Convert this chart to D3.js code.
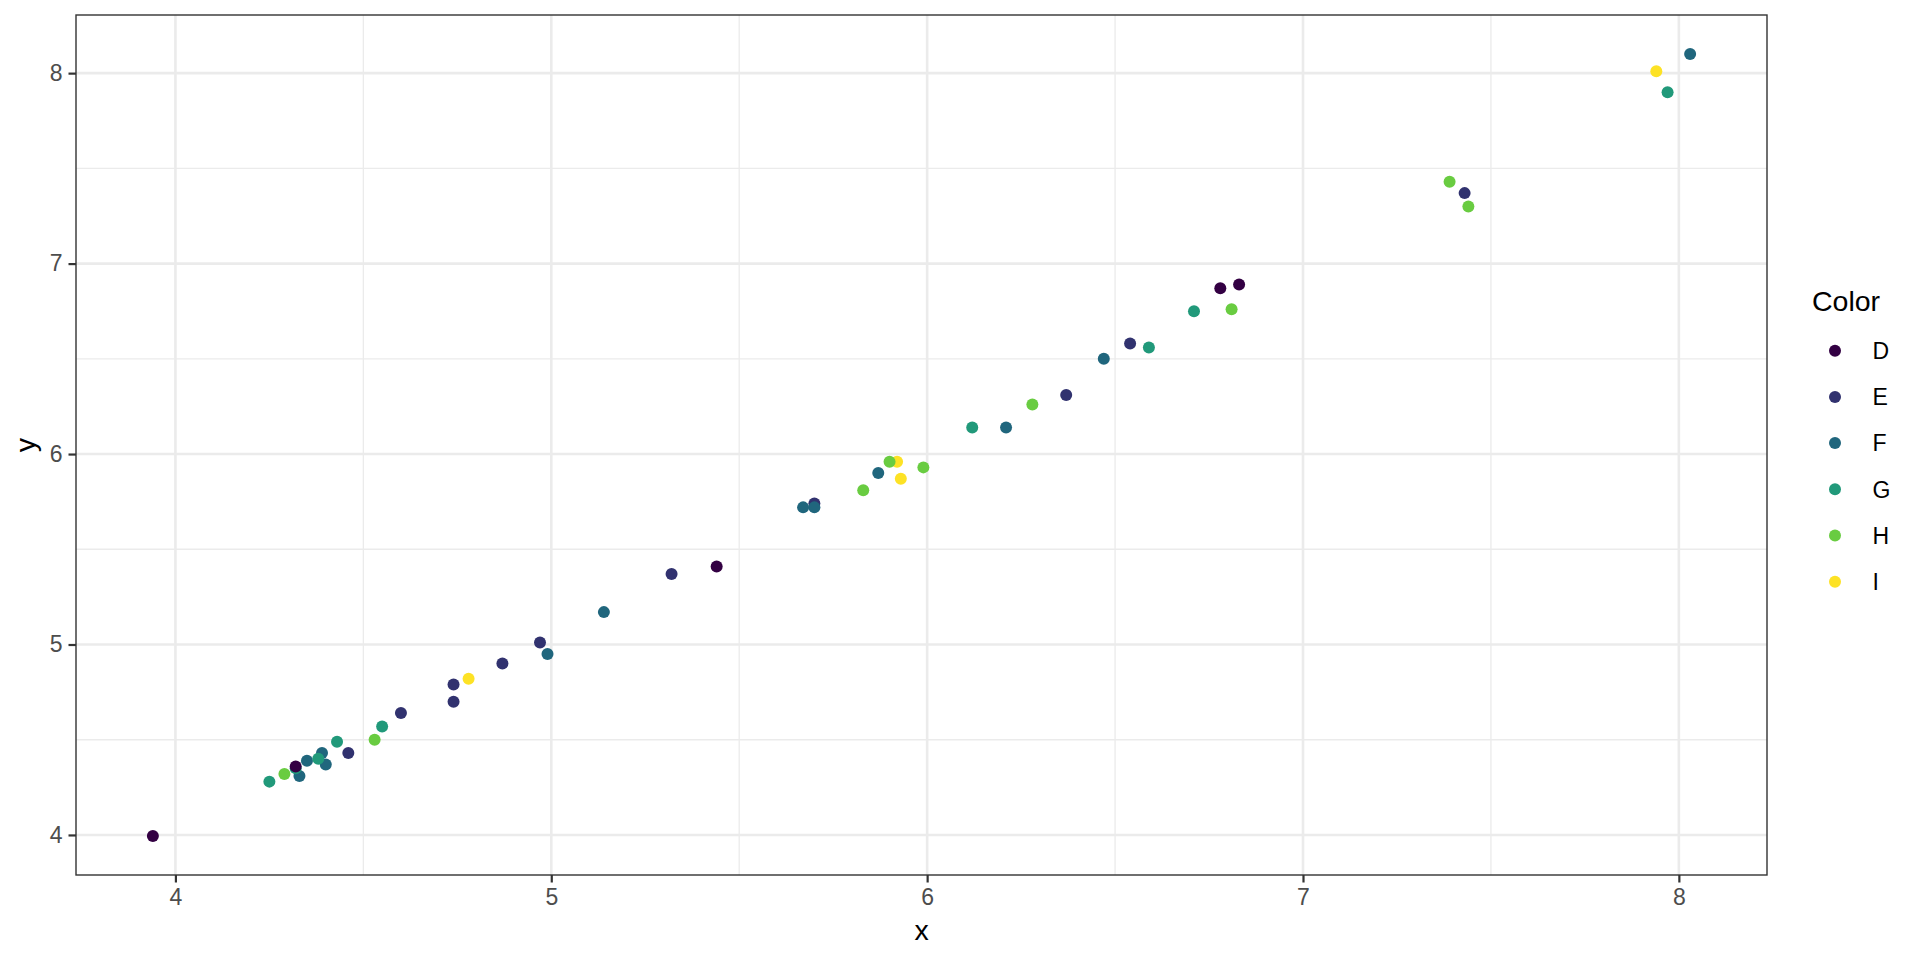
<!DOCTYPE html>
<html>
<head>
<meta charset="utf-8">
<script src="https://cdn.jsdelivr.net/npm/d3@7"></script>
<style>
  html, body { margin: 0; padding: 0; background: #fff; }
  svg { display: block; font-family: "Liberation Sans", Arial, Helvetica, sans-serif; }
</style>
</head>
<body>
<svg id="chart" width="1920" height="960"></svg>
<script>
// ---- data ----
const categories = ["D", "E", "F", "G", "H", "I"];
const palette = ["#330043", "#31326F", "#20667D", "#21997A", "#69CC41", "#FDE225"];
// points listed in drawing order
const pointColor = ["I","I","I","I",
  "E","E","E","E","E","E","E","E","E","E","E",
  "F","F","F","F","F","F","F","F","F","F","F","F",
  "G","G","G","G","G","G","G","G","G",
  "H","H","H","H","H","H","H","H","H",
  "D","D","D","D","D"];
const xValues = [4.78, 5.92, 5.93, 7.94,
  4.46, 4.60, 4.74, 4.74, 4.87, 4.97, 5.32, 5.70, 6.37, 6.54, 7.43,
  4.33, 4.35, 4.39, 4.40, 4.99, 5.14, 5.67, 5.70, 5.87, 6.21, 6.47, 8.03,
  4.25, 4.32, 4.38, 4.43, 4.55, 6.12, 6.59, 6.71, 7.97,
  4.29, 4.53, 5.83, 5.90, 5.99, 6.28, 6.81, 7.39, 7.44,
  3.94, 4.32, 5.44, 6.78, 6.83];
const yValues = [4.82, 5.96, 5.87, 8.01,
  4.43, 4.64, 4.70, 4.79, 4.90, 5.01, 5.37, 5.74, 6.31, 6.58, 7.37,
  4.31, 4.39, 4.43, 4.37, 4.95, 5.17, 5.72, 5.72, 5.90, 6.14, 6.50, 8.10,
  4.28, 4.35, 4.40, 4.49, 4.57, 6.14, 6.56, 6.75, 7.90,
  4.32, 4.50, 5.81, 5.96, 5.93, 6.26, 6.76, 7.43, 7.30,
  3.995, 4.36, 5.41, 6.87, 6.89];
const xTicks = [4, 5, 6, 7, 8];
const yTicks = [4, 5, 6, 7, 8];
const xMinor = [4.5, 5.5, 6.5, 7.5];
const yMinor = [4.5, 5.5, 6.5, 7.5];
const xTitle = "x", yTitle = "y", legendTitle = "Color";

const points = xValues.map((x, i) => ({x, y: yValues[i], c: pointColor[i]}));

// ---- layout ----
const panel = {left: 76, right: 1767, top: 15, bottom: 875};
const svg = d3.select("#chart");

function expand(ext) { const r = ext[1] - ext[0]; return [ext[0] - 0.05 * r, ext[1] + 0.05 * r]; }
const x = d3.scaleLinear().domain(expand(d3.extent(xValues))).range([panel.left, panel.right]);
const y = d3.scaleLinear().domain(expand(d3.extent(yValues))).range([panel.bottom, panel.top]);
const color = d3.scaleOrdinal().domain(categories).range(palette);

// panel background
svg.append("rect").attr("x", panel.left).attr("y", panel.top)
  .attr("width", panel.right - panel.left).attr("height", panel.bottom - panel.top)
  .attr("fill", "#fff");

const grid = svg.append("g");
grid.selectAll("line.xmin").data(xMinor).enter().append("line")
  .attr("x1", d => x(d)).attr("x2", d => x(d)).attr("y1", panel.top).attr("y2", panel.bottom)
  .attr("stroke", "#EBEBEB").attr("stroke-width", 1.3);
grid.selectAll("line.ymin").data(yMinor).enter().append("line")
  .attr("y1", d => y(d)).attr("y2", d => y(d)).attr("x1", panel.left).attr("x2", panel.right)
  .attr("stroke", "#EBEBEB").attr("stroke-width", 1.3);
grid.selectAll("line.xmaj").data(xTicks).enter().append("line")
  .attr("x1", d => x(d)).attr("x2", d => x(d)).attr("y1", panel.top).attr("y2", panel.bottom)
  .attr("stroke", "#EBEBEB").attr("stroke-width", 2.6);
grid.selectAll("line.ymaj").data(yTicks).enter().append("line")
  .attr("y1", d => y(d)).attr("y2", d => y(d)).attr("x1", panel.left).attr("x2", panel.right)
  .attr("stroke", "#EBEBEB").attr("stroke-width", 2.6);

// points
svg.append("g").selectAll("circle").data(points).enter().append("circle")
  .attr("cx", d => x(d.x)).attr("cy", d => y(d.y)).attr("r", 6)
  .attr("fill", d => color(d.c));

// panel border
svg.append("rect").attr("x", panel.left).attr("y", panel.top)
  .attr("width", panel.right - panel.left).attr("height", panel.bottom - panel.top)
  .attr("fill", "none").attr("stroke", "#333333").attr("stroke-width", 1.4);

// axes
const xAxis = svg.append("g").attr("transform", `translate(0,${panel.bottom})`)
  .call(d3.axisBottom(x).tickValues(xTicks).tickFormat(d3.format("d")).tickSize(7.5).tickPadding(6));
const yAxis = svg.append("g").attr("transform", `translate(${panel.left},0)`)
  .call(d3.axisLeft(y).tickValues(yTicks).tickFormat(d3.format("d")).tickSize(7.5).tickPadding(6));
[xAxis, yAxis].forEach(a => {
  a.select(".domain").remove();
  a.selectAll(".tick line").attr("stroke", "#333333").attr("stroke-width", 2.2);
  a.selectAll(".tick text").attr("fill", "#4D4D4D").style("font-size", "23px")
    .style("font-family", "'Liberation Sans', Arial, sans-serif");
});

// axis titles
svg.append("text").attr("x", (panel.left + panel.right) / 2).attr("y", 940)
  .attr("text-anchor", "middle").attr("fill", "#000").style("font-size", "28.5px").text(xTitle);
svg.append("text").attr("transform", `translate(34.5,${(panel.top + panel.bottom) / 2}) rotate(-90)`)
  .attr("text-anchor", "middle").attr("fill", "#000").style("font-size", "28.5px").text(yTitle);

// legend
const legend = svg.append("g");
legend.append("text").attr("x", 1812).attr("y", 311).attr("fill", "#000")
  .style("font-size", "28.5px").text(legendTitle);
const items = legend.selectAll("g.item").data(categories).enter().append("g")
  .attr("transform", (d, i) => `translate(0,${350.7 + i * 46.2})`);
items.append("circle").attr("cx", 1835).attr("cy", 0).attr("r", 6).attr("fill", d => color(d));
items.append("text").attr("x", 1872.5).attr("y", 8.2).attr("fill", "#000")
  .style("font-size", "23px").text(d => d);
</script>
</body>
</html>
